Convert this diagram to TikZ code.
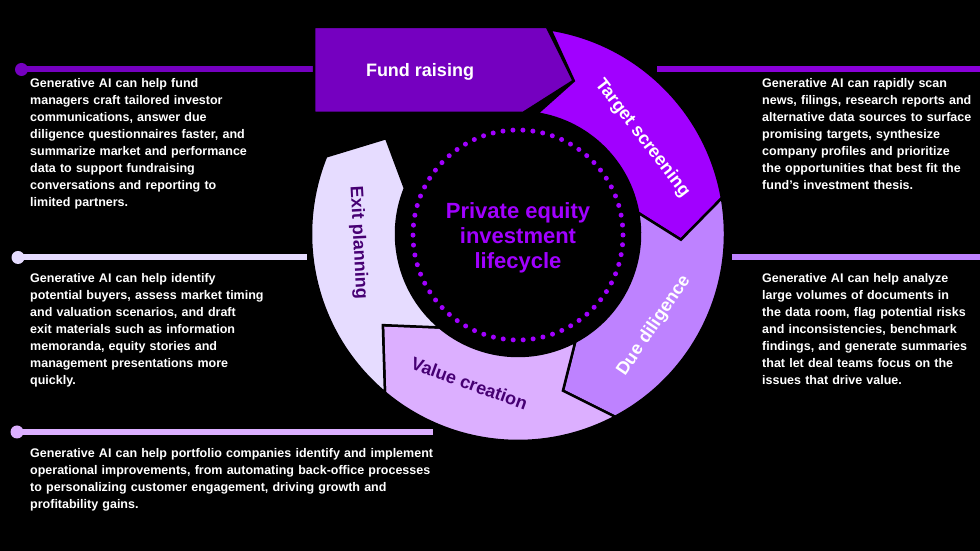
\documentclass[tikz,border=0pt]{standalone}
\usepackage{fontspec}
\setmainfont{Liberation Sans}
\hyphenpenalty=10000
\exhyphenpenalty=10000
\definecolor{frc}{HTML}{7500C0}
\definecolor{tsc}{HTML}{A100FF}
\definecolor{ddc}{HTML}{BE82FF}
\definecolor{vcc}{HTML}{DCAFFF}
\definecolor{epc}{HTML}{E6DCFF}
\definecolor{darkp}{HTML}{460073}
\tikzset{
  seg/.style={draw=black, line width=2.5pt, line join=miter},
  lbl/.style={font=\bfseries\fontsize{18}{20}\selectfont, inner sep=0pt},
  para/.style={font=\bfseries\fontsize{12.5}{17}\selectfont, text=white, align=left, anchor=north west, inner sep=0pt},
  leader/.style={line width=6pt},
  dotnode/.style={circle, inner sep=0pt, minimum size=13pt},
}
\newcommand{\ringseg}[5]{%
  \path[fill=#1, seg] (#2:207) arc[start angle=#2, end angle=#4, radius=207]
    -- (#5:163) -- (#4:122) arc[start angle=#4, end angle=#2, radius=122]
    -- (#3:163) -- cycle;}
\begin{document}
\begin{tikzpicture}[x=1pt, y=1pt]
\useasboundingbox (0,0) rectangle (980,551);
\fill[black] (0,0) rectangle (980,551);

% leader lines
\node[dotnode, fill=frc] (d1) at (21.5,481.5) {};
\coordinate (e1) at (314,481.5);
\draw[leader, frc] (d1.center) -- (e1);
\coordinate (s2) at (657,481.5);
\coordinate (e2) at (980,481.5);
\draw[leader, tsc!85!black] (s2) -- (e2);
\node[dotnode, fill=epc] (d3) at (18,293.5) {};
\coordinate (e3) at (307,293.5);
\draw[leader, epc] (d3.center) -- (e3);
\coordinate (s4) at (732,293.5);
\coordinate (e4) at (980,293.5);
\draw[leader, ddc] (s4) -- (e4);
\node[dotnode, fill=vcc] (d5) at (17,119) {};
\coordinate (e5) at (433,119);
\draw[leader, vcc] (d5.center) -- (e5);

% fund raising box
\path[fill=frc, seg] (314,524) -- (547,524) -- (573.7,470.2) -- (523,438) -- (314,438) -- cycle;
\node[lbl, text=white] (fr) at (420,479) {Fund raising};

\begin{scope}[shift={(518,317)}]
  \ringseg{tsc}{81}{70}{10}{-2}
  \ringseg{ddc}{10}{-2}{-62}{-74}
  \ringseg{vcc}{-62}{-74}{-130}{-146}
  \ringseg{epc}{230}{214}{158}{144}
  \node[lbl, text=white, rotate=-52.4] (ts) at (37.6:157) {Target screening};
  \node[lbl, text=white, rotate=56] (dd) at (-34:164) {Due diligence};
  \node[lbl, text=darkp, rotate=-20] (vc) at (-108:157) {Value creation};
  \node[lbl, text=darkp, rotate=-87] (ep) at (183:160) {Exit planning};
  \draw[tsc, line width=5pt, line cap=round, dash pattern=on 0pt off 10pt] (0,-1) circle[radius=105];
  \node[font=\bfseries\fontsize{22}{25}\selectfont, text=tsc, align=center, inner sep=0pt] (center) at (0,-4) {Private equity\\investment\\lifecycle};
\end{scope}

% paragraphs
\node[para, text width=225pt] (p1) at (30,473) {Generative AI can help fund managers craft tailored investor communications, answer due diligence questionnaires faster, and summarize market and performance data to support fundraising conversations and reporting to limited partners.};
\node[para, text width=235pt] (p2) at (30,278) {Generative AI can help identify potential buyers, assess market timing and valuation scenarios, and draft exit materials such as information memoranda, equity stories and management presentations more quickly.};
\node[para, text width=415pt] (p3) at (30,103) {Generative AI can help portfolio companies identify and implement operational improvements, from automating back-office processes to personalizing customer engagement, driving growth and profitability gains.};
\node[para, text width=212pt] (p4) at (762,473) {Generative AI can rapidly scan news, filings, research reports and alternative data sources to surface promising targets, synthesize company profiles and prioritize the opportunities that best fit the fund's investment thesis.};
\node[para, text width=212pt] (p5) at (762,278) {Generative AI can help analyze large volumes of documents in the data room, flag potential risks and inconsistencies, benchmark findings, and generate summaries that let deal teams focus on the issues that drive value.};
\end{tikzpicture}
\end{document}
